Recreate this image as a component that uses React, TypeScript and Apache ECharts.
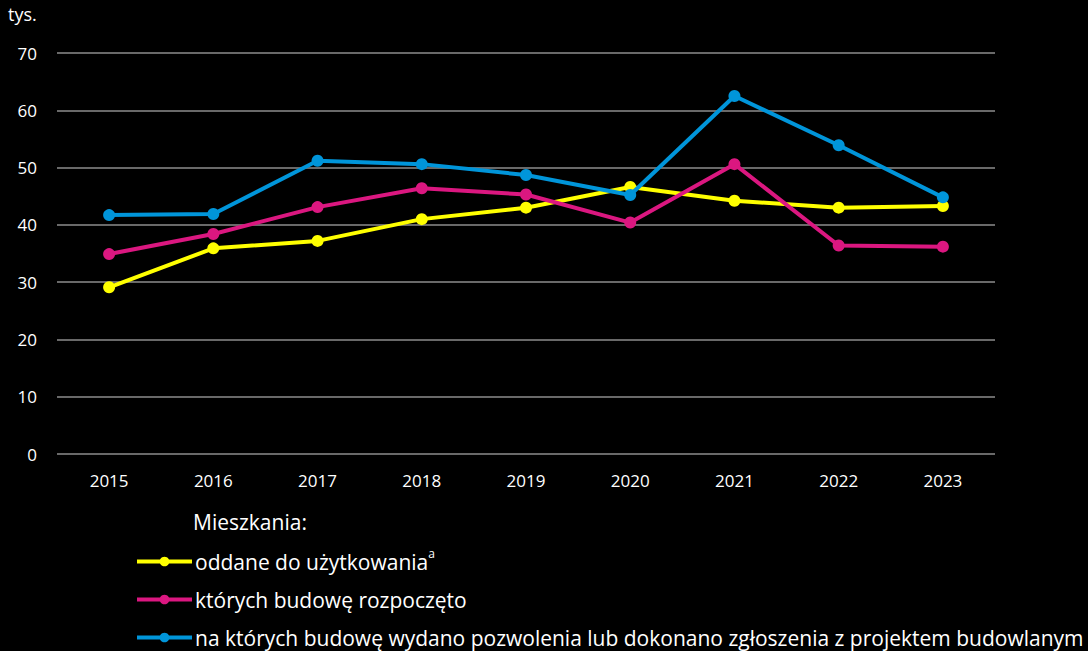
import React, { useEffect, useRef } from "react";
import * as echarts from "echarts";

const years = ["2015", "2016", "2017", "2018", "2019", "2020", "2021", "2022", "2023"];
const seriesNames = [
  "oddane do użytkowania",
  "których budowę rozpoczęto",
  "na których budowę wydano pozwolenia lub dokonano zgłoszenia z projektem budowlanym",
];
const oddane = [29.1, 35.9, 37.2, 41.0, 43.0, 46.6, 44.2, 43.0, 43.3];
const rozpoczete = [34.9, 38.4, 43.1, 46.4, 45.3, 40.4, 50.6, 36.4, 36.2];
const pozwolenia = [41.7, 41.9, 51.2, 50.6, 48.7, 45.2, 62.5, 53.9, 44.8];
const colors = ["#ffff00", "#db1780", "#0095da"];
const unitLabel = "tys.";
const legendTitle = "Mieszkania:";

const FONT = "'Open Sans', 'Noto Sans', sans-serif";
const LEGEND_FS = 21;

export default function App() {
  const ref = useRef<HTMLDivElement>(null);
  useEffect(() => {
    if (!ref.current) return;
    const chart = echarts.init(ref.current, null, { renderer: "svg" });
    const data = [oddane, rozpoczete, pozwolenia];
    const legendTops = [547, 589, 627];
    chart.setOption({
      animation: false,
      backgroundColor: "#000000",
      textStyle: { fontFamily: FONT },
      grid: { left: 57, right: 93, top: 53, bottom: 197 },
      xAxis: {
        type: "category",
        data: years,
        boundaryGap: true,
        axisLine: { show: false },
        axisTick: { show: false },
        axisLabel: { color: "#ffffff", fontSize: 17, fontFamily: FONT, margin: 18 },
      },
      yAxis: {
        type: "value",
        min: 0,
        max: 70,
        interval: 10,
        axisLine: { show: false },
        axisTick: { show: false },
        splitLine: { lineStyle: { color: "#8c8c8c", width: 1.5 } },
        axisLabel: { color: "#ffffff", fontSize: 17, fontFamily: FONT, margin: 20 },
      },
      legend: seriesNames.map((name, i) => ({
        orient: "horizontal",
        left: 135,
        top: legendTops[i],
        padding: 0,
        itemWidth: 55,
        itemHeight: 12,
        itemGap: 0,
        lineStyle: { width: 4 },
        textStyle: {
          color: "#ffffff",
          fontSize: LEGEND_FS,
          fontFamily: FONT,
          padding: [0, 0, 0, -2],
          rich: {
            n: { color: "#ffffff", fontSize: LEGEND_FS, fontFamily: FONT },
            sup: { color: "#ffffff", fontSize: 12, fontFamily: FONT, padding: [0, 0, 17, 0] },
          },
        },
        formatter: (nm: string) => (nm === seriesNames[0] ? `{n|${nm}}{sup|a}` : nm),
        data: [name],
      })),
      graphic: [
        {
          type: "text",
          left: 8,
          top: 5,
          style: { text: unitLabel, fill: "#ffffff", fontSize: 18, fontFamily: FONT },
        },
        {
          type: "text",
          left: 193,
          top: 511,
          style: { text: legendTitle, fill: "#ffffff", fontSize: LEGEND_FS, fontFamily: FONT },
        },
      ],
      series: seriesNames.map((name, i) => ({
        name,
        type: "line",
        data: data[i],
        symbol: "circle",
        symbolSize: 12,
        lineStyle: { width: 4, color: colors[i] },
        itemStyle: { color: colors[i] },
        z: 2 + i,
      })),
    });
    return () => chart.dispose();
  }, []);
  return <div ref={ref} style={{ width: 1088, height: 651, position: "absolute", left: 0, top: 0 }} />;
}
